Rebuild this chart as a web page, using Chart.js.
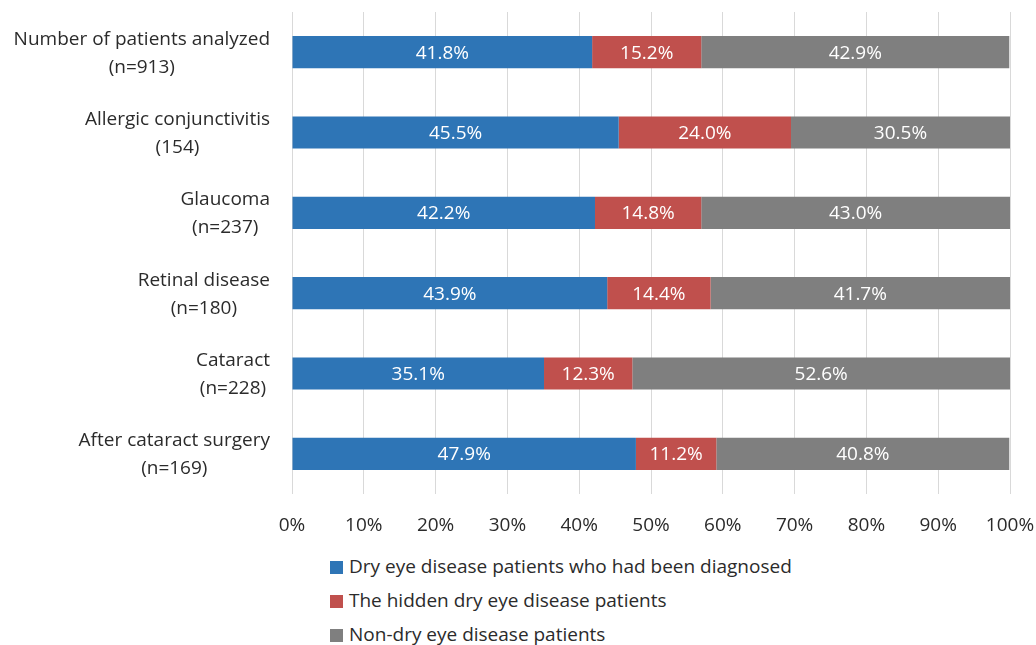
<!DOCTYPE html>
<html>
<head>
<meta charset="utf-8">
<script src="https://cdn.jsdelivr.net/npm/chart.js@4"></script>
<style>
  html, body { margin: 0; padding: 0; background: #fff; overflow: hidden; }
  #wrap { position: relative; width: 1036px; height: 645px; }
  #chartBox { position: absolute; left: 0; top: 0; width: 1036px; height: 545px; }
  #legend { position: absolute; left: 330px; top: 551px; font-family: "Open Sans", sans-serif; font-size: 19px; color: #2b2b2b; }
  #legend .item { height: 34px; line-height: 30px; white-space: nowrap; }
  #legend .box { display: inline-block; width: 13px; height: 13px; margin-right: 6px; vertical-align: -1px; }
</style>
</head>
<body>
<div id="wrap">
  <div id="chartBox"><canvas id="chart"></canvas></div>
  <div id="legend"></div>
</div>
<script>
// categorias (cada uma em duas linhas)
const categories = [
  ['Number of patients analyzed', '(n=913)'],
  ['Allergic conjunctivitis', '(154)'],
  ['Glaucoma', '(n=237)'],
  ['Retinal disease', '(n=180)'],
  ['Cataract', '(n=228)'],
  ['After cataract surgery', '(n=169)']
];

const seriesNames = [
  'Dry eye disease patients who had been diagnosed',
  'The hidden dry eye disease patients',
  'Non-dry eye disease patients'
];

const diagnosed = [41.8, 45.5, 42.2, 43.9, 35.1, 47.9];
const hidden = [15.2, 24.0, 14.8, 14.4, 12.3, 11.2];
const nonDry = [42.9, 30.5, 43.0, 41.7, 52.6, 40.8];

const xTicks = [0, 10, 20, 30, 40, 50, 60, 70, 80, 90, 100];

const colors = ['#2E75B6', '#C0504D', '#7F7F7F'];
const FONT = '"Open Sans", sans-serif';
const TEXT_COLOR = '#2b2b2b';

// rótulos do eixo Y: bloco alinhado à direita, linhas centralizadas
const yLabelsPlugin = {
  id: 'yLabels',
  afterDraw(chart) {
    const ctx = chart.ctx;
    const scale = chart.scales.y;
    ctx.save();
    ctx.font = '19px ' + FONT;
    ctx.fillStyle = TEXT_COLOR;
    ctx.textAlign = 'center';
    ctx.textBaseline = 'middle';
    categories.forEach((lines, i) => {
      const y = scale.getPixelForValue(i);
      const widest = Math.max(...lines.map(l => ctx.measureText(l).width));
      const cx = 270 - widest / 2;
      ctx.fillText(lines[0], cx, y - 13);
      ctx.fillText(lines[1], cx, y + 15);
    });
    ctx.restore();
  }
};

// valores dentro das barras
const barValuesPlugin = {
  id: 'barValues',
  afterDatasetsDraw(chart) {
    const ctx = chart.ctx;
    ctx.save();
    ctx.font = '19px ' + FONT;
    ctx.fillStyle = '#fff';
    ctx.textAlign = 'center';
    ctx.textBaseline = 'middle';
    chart.data.datasets.forEach((ds, di) => {
      chart.getDatasetMeta(di).data.forEach((el, i) => {
        ctx.fillText(ds.data[i].toFixed(1) + '%', (el.x + el.base) / 2, el.y + 1);
      });
    });
    ctx.restore();
  }
};

const seriesData = [diagnosed, hidden, nonDry];

new Chart(document.getElementById('chart'), {
  type: 'bar',
  data: {
    labels: categories,
    datasets: seriesData.map((d, i) => ({
      label: seriesNames[i],
      data: d,
      backgroundColor: colors[i],
      borderWidth: 0,
      barPercentage: 0.4,
      categoryPercentage: 1
    }))
  },
  options: {
    indexAxis: 'y',
    responsive: true,
    maintainAspectRatio: false,
    animation: false,
    layout: { padding: { top: 12, right: 26, bottom: 11, left: 0 } },
    plugins: {
      legend: { display: false },
      tooltip: { enabled: false }
    },
    scales: {
      x: {
        stacked: true,
        min: 0,
        max: 100,
        afterBuildTicks: function(scale) {
          scale.ticks = xTicks.map(v => ({ value: v }));
        },
        afterFit: function(scale) {
          scale.height = 40;
          scale.paddingLeft = 0;
          scale.paddingRight = 0;
        },
        grid: { color: '#D9D9D9', lineWidth: 1, drawTicks: false },
        border: { display: false },
        ticks: {
          padding: 20,
          color: TEXT_COLOR,
          font: { family: FONT, size: 19 },
          callback: function(value) { return value + '%'; }
        }
      },
      y: {
        stacked: true,
        afterFit: function(scale) { scale.width = 292; },
        grid: { display: false },
        border: { display: false },
        ticks: { display: false }
      }
    }
  },
  plugins: [yLabelsPlugin, barValuesPlugin]
});

// legenda vertical abaixo do gráfico
const legendEl = document.getElementById('legend');
seriesNames.forEach((name, i) => {
  const item = document.createElement('div');
  item.className = 'item';
  item.innerHTML = '<span class="box" style="background:' + colors[i] + '"></span>' + name;
  legendEl.appendChild(item);
});
</script>
</body>
</html>
